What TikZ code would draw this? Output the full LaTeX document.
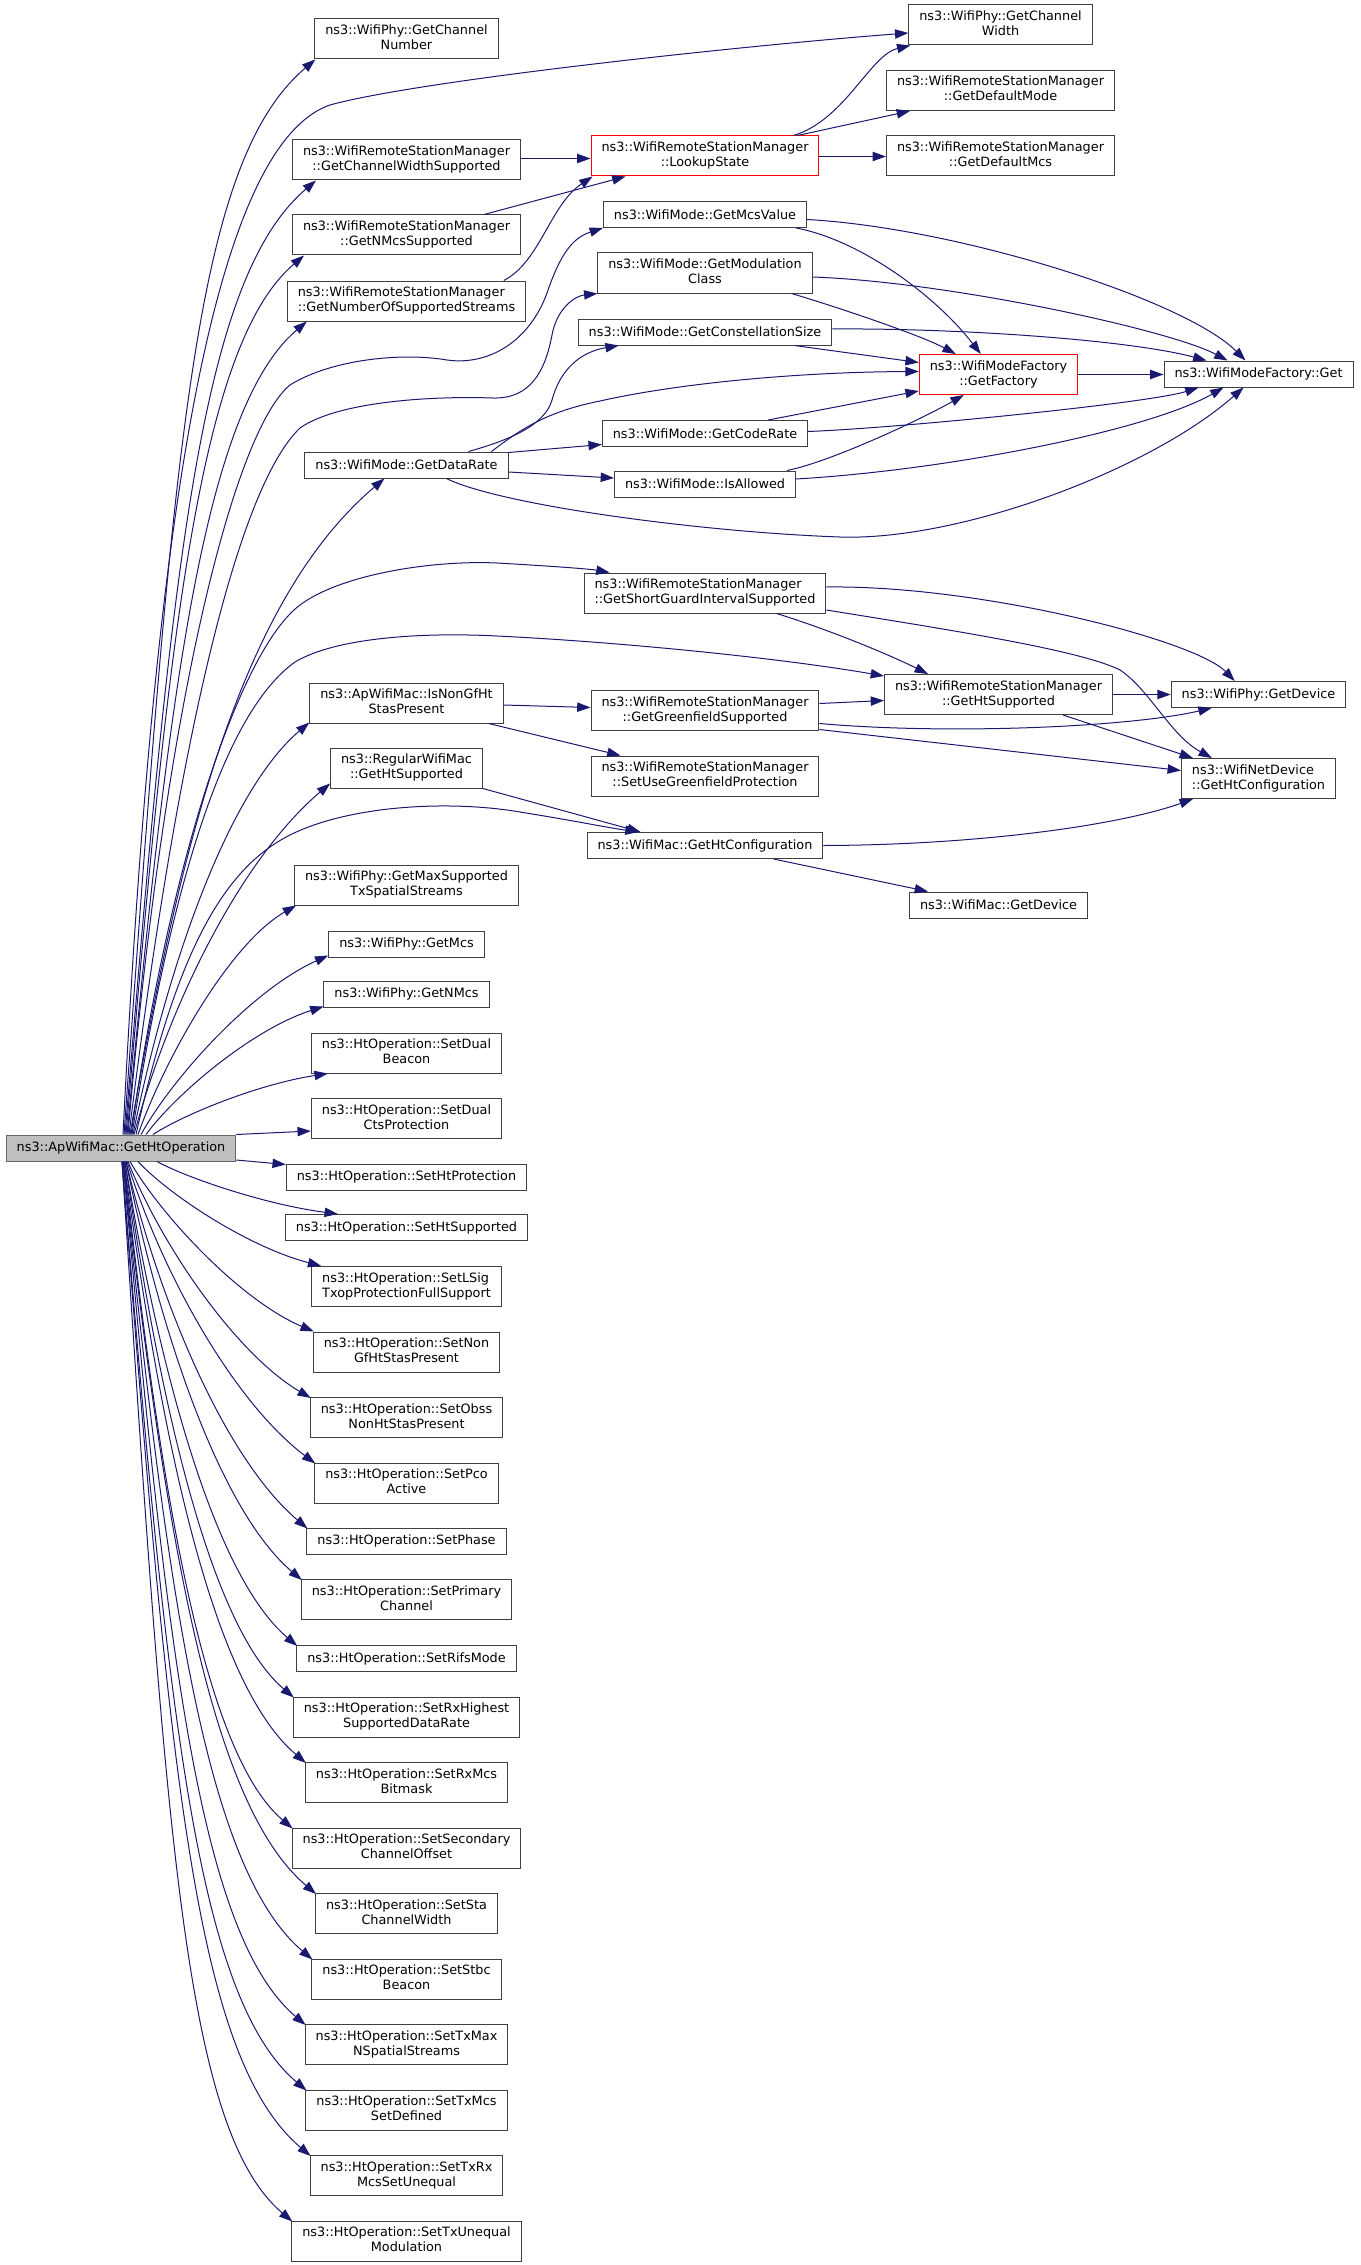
\documentclass[tikz,border=0pt]{standalone}
\usepackage{fontspec}
\setmainfont{DejaVu Sans}
\usetikzlibrary{arrows.meta,calc}
\definecolor{edgeblue}{RGB}{25,25,112}
\newdimen\lwA
\newbox\lbA
\newbox\lbB
\newcommand\twol[2]{\setbox\lbA\hbox{#1}\setbox\lbB\hbox{#2}\lwA=\wd\lbA\relax\ifdim\wd\lbB>\lwA\lwA=\wd\lbB\relax\fi\begin{tabular}{@{}c@{}}\makebox[\lwA][l]{#1}\\#2\end{tabular}}
\newcommand\fsz{\fontsize{9.62pt}{11.25pt}\selectfont}
\newcommand\fanedge[2]{%
 \draw[edge] let \p1=(#1), \p2=(#2),
   \n1={min(max((abs(\y2-\y1)-127.5)/675,0),1)},
   \n2={0.17+0.09*\n1}, \n3={0.32+0.33*\n1}, \n4={0.4+0.23*\n1}, \n5={min(abs(\y2-\y1)/300,0.85)},
   \n6={(\y2-\y1)/abs(\y2-\y1)}
 in (\p1) .. controls ($(\p1)+({\n2*(\x2-\x1)},{\n3*(\y2-\y1)})$) and ($(\p2)+({-\n4*(\x2-\x1)},{-\n4*\n5*\n6*(\x2-\x1)})$) .. (\p2);}
\tikzset{
 box/.style={draw=black!75, fill=white, line width=0.75pt, inner xsep=7.875pt, inner ysep=0pt, font=\fsz, minimum height=19.5pt},
 boxtwo/.style={box, minimum height=30pt},
 mainbox/.style={box, fill=black!25, draw=black!60},
 redbox/.style={draw=red},
 edge/.style={draw=edgeblue, line width=0.75pt, -{Triangle[length=10pt,width=7pt]}}
}
\begin{document}
\begin{tikzpicture}[x=0.75pt,y=-0.75pt]
\useasboundingbox (0,0) rectangle (1360,2265);
% main
\node[mainbox] (M) at (121,1148) {ns3::ApWifiMac::GetHtOperation};
% column 1
\node[boxtwo] (cn) at (406.5,39) {\twol{ns3::WifiPhy::GetChannel}{Number}};
\node[boxtwo] (cws) at (406.5,160) {\twol{ns3::WifiRemoteStationManager}{::GetChannelWidthSupported}};
\node[boxtwo] (nmcs) at (406.5,235) {\twol{ns3::WifiRemoteStationManager}{::GetNMcsSupported}};
\node[boxtwo] (nss) at (406.5,301) {\twol{ns3::WifiRemoteStationManager}{::GetNumberOfSupportedStreams}};
\node[box] (gdr) at (406.5,465) {ns3::WifiMode::GetDataRate};
\node[boxtwo] (ingf) at (406.5,703) {\twol{ns3::ApWifiMac::IsNonGfHt}{StasPresent}};
\node[boxtwo] (rwm) at (406.5,768) {\twol{ns3::RegularWifiMac}{::GetHtSupported}};
\node[boxtwo] (gmss) at (406.5,885) {\twol{ns3::WifiPhy::GetMaxSupported}{TxSpatialStreams}};
\node[box] (gmcs) at (406.5,944) {ns3::WifiPhy::GetMcs};
\node[box] (gnmcs) at (406.5,994) {ns3::WifiPhy::GetNMcs};
\node[boxtwo] (sdb) at (406.5,1053) {\twol{ns3::HtOperation::SetDual}{Beacon}};
\node[boxtwo] (sdc) at (406.5,1118.5) {\twol{ns3::HtOperation::SetDual}{CtsProtection}};
\node[box] (shp) at (406.5,1177) {ns3::HtOperation::SetHtProtection};
\node[box] (shs) at (406.5,1227.5) {ns3::HtOperation::SetHtSupported};
\node[boxtwo] (sls) at (406.5,1286.5) {\twol{ns3::HtOperation::SetLSig}{TxopProtectionFullSupport}};
\node[boxtwo] (snon) at (406.5,1352) {\twol{ns3::HtOperation::SetNon}{GfHtStasPresent}};
\node[boxtwo] (sobss) at (406.5,1417.5) {\twol{ns3::HtOperation::SetObss}{NonHtStasPresent}};
\node[boxtwo] (spco) at (406.5,1483) {\twol{ns3::HtOperation::SetPco}{Active}};
\node[box] (sph) at (406.5,1541) {ns3::HtOperation::SetPhase};
\node[boxtwo] (spc) at (406.5,1599.5) {\twol{ns3::HtOperation::SetPrimary}{Channel}};
\node[box] (srifs) at (406.5,1658.5) {ns3::HtOperation::SetRifsMode};
\node[boxtwo] (srxh) at (406.5,1717) {\twol{ns3::HtOperation::SetRxHighest}{SupportedDataRate}};
\node[boxtwo] (srxm) at (406.5,1782.5) {\twol{ns3::HtOperation::SetRxMcs}{Bitmask}};
\node[boxtwo] (ssec) at (406.5,1848) {\twol{ns3::HtOperation::SetSecondary}{ChannelOffset}};
\node[boxtwo] (ssta) at (406.5,1913.5) {\twol{ns3::HtOperation::SetSta}{ChannelWidth}};
\node[boxtwo] (sstbc) at (406.5,1979) {\twol{ns3::HtOperation::SetStbc}{Beacon}};
\node[boxtwo] (stxmax) at (406.5,2044.5) {\twol{ns3::HtOperation::SetTxMax}{NSpatialStreams}};
\node[boxtwo] (stxmcs) at (406.5,2110) {\twol{ns3::HtOperation::SetTxMcs}{SetDefined}};
\node[boxtwo] (stxrx) at (406.5,2175.5) {\twol{ns3::HtOperation::SetTxRx}{McsSetUnequal}};
\node[boxtwo] (stxu) at (406.5,2241) {\twol{ns3::HtOperation::SetTxUnequal}{Modulation}};
% column 2
\node[boxtwo,redbox] (ls) at (705,156) {\twol{ns3::WifiRemoteStationManager}{::LookupState}};
\node[box] (mcsv) at (705,214.5) {ns3::WifiMode::GetMcsValue};
\node[boxtwo] (gmc) at (705,273) {\twol{ns3::WifiMode::GetModulation}{Class}};
\node[box] (gcs) at (705,332) {ns3::WifiMode::GetConstellationSize};
\node[box] (gcr) at (705,433.5) {ns3::WifiMode::GetCodeRate};
\node[box] (ia) at (705,484) {ns3::WifiMode::IsAllowed};
\node[boxtwo] (sgi) at (705,593) {\twol{ns3::WifiRemoteStationManager}{::GetShortGuardIntervalSupported}};
\node[boxtwo] (ggf) at (705,710.5) {\twol{ns3::WifiRemoteStationManager}{::GetGreenfieldSupported}};
\node[boxtwo] (sug) at (705,776) {\twol{ns3::WifiRemoteStationManager}{::SetUseGreenfieldProtection}};
\node[box] (ghc) at (705,845.5) {ns3::WifiMac::GetHtConfiguration};
% column 3
\node[boxtwo] (gcw) at (1000.5,25) {\twol{ns3::WifiPhy::GetChannel}{Width}};
\node[boxtwo] (gdm) at (1000.5,90.5) {\twol{ns3::WifiRemoteStationManager}{::GetDefaultMode}};
\node[boxtwo] (gdmcs) at (1000.5,156) {\twol{ns3::WifiRemoteStationManager}{::GetDefaultMcs}};
\node[boxtwo,redbox] (gf) at (998.5,374.5) {\twol{ns3::WifiModeFactory}{::GetFactory}};
\node[boxtwo] (hts) at (998.5,694.5) {\twol{ns3::WifiRemoteStationManager}{::GetHtSupported}};
\node[box] (wmgd) at (998.5,905) {ns3::WifiMac::GetDevice};
% column 4
\node[box] (get) at (1258.5,374) {ns3::WifiModeFactory::Get};
\node[box] (pgd) at (1258.5,694.5) {ns3::WifiPhy::GetDevice};
\node[boxtwo] (nd) at (1258.5,778.5) {\twol{ns3::WifiNetDevice}{::GetHtConfiguration}};

% ---- edges from the main node
\draw[edge] ($(M.north)+(2,0)$) .. controls (150,600) and (200,150) .. (330,105) .. controls (420,80) and (750,45) .. ($(gcw.west)+(0,8)$);
\fanedge{$(M.north)+(3,0)$}{$(cn.south west)+(1,0)$}
\fanedge{$(M.north)+(4,0)$}{$(cws.south west)+(24,0)$}
\fanedge{$(M.north)+(5,0)$}{$(nmcs.south west)+(12,0)$}
\fanedge{$(M.north)+(6,0)$}{$(nss.south west)+(20,0)$}
\draw[edge] ($(M.north)+(7,0)$) .. controls (165,700) and (235,430) .. (290,385) .. controls (330,360) and (400,352) .. (447,360) .. controls (490,366) and (530,340) .. (547,293) .. controls (560,255) and (572,238) .. (mcsv.south west);
\draw[edge] ($(M.north)+(8,0)$) .. controls (175,760) and (235,490) .. (300,428) .. controls (340,400) and (440,396) .. (493,398) .. controls (530,399) and (545,372) .. (552,335) .. controls (557,308) and (575,296) .. (gmc.south west);
\fanedge{$(M.north)+(9,0)$}{$(gdr.south west)+(80,0)$}
\draw[edge] ($(M.north)+(10,0)$) .. controls (170,860) and (240,650) .. (300,605) .. controls (340,575) and (430,560) .. (497,563) .. controls (550,566) and (590,569) .. ($(sgi.north west)+(26,0)$);
\draw[edge] ($(M.north)+(11,0)$) .. controls (172,880) and (225,712) .. (295,662) .. controls (335,638) and (420,632) .. (497,636) .. controls (620,642) and (780,658) .. ($(hts.north west)+(0,2)$);
\fanedge{$(M.north)+(12,0)$}{$(ingf.south west)+(0,-1)$}
\fanedge{$(M.north)+(13,0)$}{$(rwm.south west)+(0,-5)$}
\draw[edge] ($(M.north)+(15,0)$) .. controls (175,960) and (220,870) .. (290,835) .. controls (350,805) and (450,800) .. (520,812) .. controls (570,820) and (610,828) .. ($(ghc.north west)+(52,0)$);
\fanedge{$(M.north)+(17,0)$}{$(gmss.south west)+(2,0)$}
\fanedge{$(M.north)+(20,0)$}{$(gmcs.south west)+(0,-2)$}
\fanedge{$(M.north)+(25,0)$}{$(gnmcs.south west)+(0,-1)$}
\fanedge{$(M.north)+(32,0)$}{$(sdb.south west)+(17,0)$}
\draw[edge] (M.north east) -- ($(sdc.south west)+(0,-8)$);
\draw[edge] ($(M.east)+(0,12)$) -- ($(shp.north west)+(0,1)$);
\fanedge{$(M.south)+(36,0)$}{$(shs.north west)+(53,0)$}
\fanedge{$(M.south)+(17,0)$}{$(sls.north west)+(10,0)$}
\fanedge{$(M.south)+(9,0)$}{$(snon.north west)+(1,0)$}
\fanedge{$(M.south)+(7,0)$}{$(sobss.north west)+(1,1)$}
\fanedge{$(M.south)+(6,0)$}{$(spco.north west)+(1,1)$}
\fanedge{$(M.south)+(5,0)$}{$(sph.north west)+(1,1)$}
\fanedge{$(M.south)+(5,0)$}{$(spc.north west)+(1,1)$}
\fanedge{$(M.south)+(4,0)$}{$(srifs.north west)+(1,1)$}
\fanedge{$(M.south)+(4,0)$}{$(srxh.north west)+(1,1)$}
\fanedge{$(M.south)+(3,0)$}{$(srxm.north west)+(1,1)$}
\fanedge{$(M.south)+(3,0)$}{$(ssec.north west)+(1,1)$}
\fanedge{$(M.south)+(2,0)$}{$(ssta.north west)+(1,1)$}
\fanedge{$(M.south)+(2,0)$}{$(sstbc.north west)+(1,1)$}
\fanedge{$(M.south)+(2,0)$}{$(stxmax.north west)+(1,1)$}
\fanedge{$(M.south)+(1,0)$}{$(stxmcs.north west)+(1,1)$}
\fanedge{$(M.south)+(1,0)$}{$(stxrx.north west)+(1,1)$}
\fanedge{$(M.south)+(1,0)$}{$(stxu.north west)+(1,1)$}

% ---- other edges
\draw[edge] ($(cws.east)+(0,-1.5)$) -- ($(ls.west)+(0,2.5)$);
\draw[edge] ($(nmcs.north west)+(192,0)$) -- ($(ls.south west)+(35,0)$);
\draw[edge] ($(nss.north west)+(217,0)$) .. controls (540,262) and (550,205) .. ($(ls.south west)+(2,0)$);
\draw[edge] ($(ls.north east)+(-26,0)$) .. controls (845,120) and (870,55) .. ($(gcw.south west)+(2,0)$);
\draw[edge] ($(ls.north east)+(-22,0)$) -- ($(gdm.south west)+(24,0)$);
\draw[edge] ($(ls.east)+(0,0.5)$) -- ($(gdmcs.west)+(0,0.5)$);
\draw[edge] ($(mcsv.south east)+(-11,0)$) .. controls (860,240) and (935,295) .. ($(gf.north west)+(62,0)$);
\draw[edge] ($(mcsv.east)+(0,5)$) .. controls (960,228) and (1185,300) .. ($(get.north west)+(82,0)$);
\draw[edge] ($(gmc.south east)+(-21,0)$) .. controls (840,308) and (920,335) .. ($(gf.north west)+(37,0)$);
\draw[edge] ($(gmc.east)+(0,4)$) .. controls (950,282) and (1170,330) .. ($(get.north west)+(64,0)$);
\draw[edge] ($(gcs.south east)+(-38,0)$) -- ($(gf.west)+(0,-12)$);
\draw[edge] ($(gcs.east)+(0,-3)$) .. controls (960,328) and (1130,340) .. ($(get.north west)+(43,0)$);
\draw[edge] ($(gdr.north west)+(164,0)$) .. controls (510,440) and (545,425) .. (552,400) .. controls (560,370) and (580,352) .. ($(gcs.south west)+(41,0)$);
\draw[edge] ($(gdr.north west)+(187,0)$) .. controls (520,430) and (545,412) .. (600,401) .. controls (680,383) and (800,372) .. ($(gf.west)+(0,-3)$);
\draw[edge] ($(gdr.north east)+(0,1)$) -- ($(gcr.west)+(0,11)$);
\draw[edge] ($(gdr.east)+(0,7)$) -- ($(ia.west)+(0,-6)$);
\draw[edge] ($(gdr.south west)+(142,0)$) .. controls (500,505) and (700,532) .. (840,537) .. controls (960,541) and (1150,470) .. ($(get.south west)+(80,0)$);
\draw[edge] ($(gcr.north east)+(-40,0)$) -- ($(gf.south west)+(0,-4)$);
\draw[edge] ($(gcr.east)+(0,-2)$) .. controls (900,428) and (1150,403) .. ($(get.south west)+(35,0)$);
\draw[edge] ($(ia.north east)+(-9,0)$) .. controls (830,462) and (920,420) .. ($(gf.south west)+(45,0)$);
\draw[edge] ($(ia.east)+(0,-5)$) .. controls (950,470) and (1150,430) .. ($(get.south west)+(60,0)$);
\draw[edge] (gf.east) -- ($(get.west)+(0,0.5)$);
\draw[edge] ($(sgi.east)+(0,-6)$) .. controls (980,585) and (1195,640) .. ($(pgd.north west)+(64,0)$);
\draw[edge] ($(sgi.south west)+(193,0)$) .. controls (830,630) and (890,655) .. ($(hts.north west)+(44,0)$);
\draw[edge] ($(sgi.east)+(0,17)$) .. controls (950,630) and (1080,650) .. (1120,670) .. controls (1150,690) and (1170,735) .. ($(nd.north west)+(31,0)$);
\draw[edge] ($(ingf.east)+(0,2)$) -- ($(ggf.west)+(0,-3)$);
\draw[edge] ($(ingf.south east)+(-15,0)$) -- ($(sug.north west)+(30,0)$);
\draw[edge] ($(ggf.east)+(0,-7)$) -- ($(hts.west)+(0,6)$);
\draw[edge] ($(ggf.east)+(0,13)$) .. controls (950,735) and (1130,727) .. ($(pgd.south west)+(41,0)$);
\draw[edge] ($(ggf.east)+(0,19)$) -- ($(nd.west)+(0,-8)$);
\draw[edge] (hts.east) -- (pgd.west);
\draw[edge] ($(hts.south west)+(179,0)$) -- ($(nd.north west)+(12,0)$);
\draw[edge] (rwm.south east) -- ($(ghc.north west)+(54,0)$);
\draw[edge] (ghc.east) .. controls (980,845) and (1120,825) .. ($(nd.south west)+(12,0)$);
\draw[edge] ($(ghc.south west)+(187,0)$) -- ($(wmgd.north west)+(19,0)$);
\end{tikzpicture}
\end{document}
